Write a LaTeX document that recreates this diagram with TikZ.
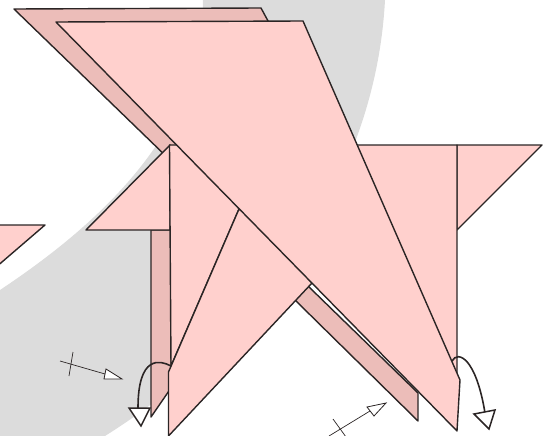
\documentclass[tikz,border=0pt]{standalone}
\definecolor{paperlight}{HTML}{FFD0CD}
\definecolor{paperdark}{HTML}{ECBDB9}
\definecolor{bandgray}{HTML}{DCDCDC}
\definecolor{inkline}{HTML}{2B2525}
\tikzset{
  frontflap/.style={fill=paperlight,draw=inkline,line width=1.4pt,line join=round},
  backflap/.style={fill=paperdark,draw=inkline,line width=1.4pt,line join=round},
  thinmark/.style={draw=inkline,line width=0.7pt},
  thinhead/.style={fill=white,draw=inkline,line width=0.8pt,line join=miter},
  turnline/.style={draw=inkline,line width=1.6pt},
  turnhead/.style={fill=white,draw=inkline,line width=1.5pt,line join=miter}
}
\begin{document}
\begin{tikzpicture}[x=1pt,y=-1pt]
\useasboundingbox (0,0) rectangle (552,436);
\begin{scope}
\clip (0,0) rectangle (552,436);
% gray band
\fill[bandgray] (203,0) .. controls (203,120) and (116,213) .. (0,290) -- (0,436) -- (105,436)
  .. controls (250,345) and (375,190) .. (385,0) -- cycle;
% left fragment
\draw[frontflap] (-5,225) -- (45,225) -- (-5,268);
% back flaps
\draw[backflap] (14,9) -- (261,8) -- (300,80) -- (170,160) -- cycle;
\draw[backflap] (151,230) -- (171,230) -- (171,388) -- (151,417) -- cycle;
\draw[backflap] (295,300) -- (418,421) -- (418,393) -- (308,286) -- cycle;
% front body pieces
\draw[frontflap] (86,230) -- (170,145) -- (170,230) -- cycle;
\draw[frontflap] (457,145) -- (542,145) -- (457,230) -- cycle;
\draw[frontflap] (340,145) -- (457,145) -- (457,385) -- (430,385) -- cycle;
\draw[frontflap] (169.5,145) -- (177,145) -- (200,150) -- (239,209) -- (171,366) -- cycle;
\draw[frontflap] (168.5,436) -- (168.5,372) -- (239,209) -- (280,240) -- (312,283) -- cycle;
% large front triangle
\draw[frontflap] (56,22) -- (303,21) -- (460,380) -- (457,431) -- cycle;
% thin arrows
\coordinate (tailA) at (60,361);
\coordinate (baseA) at (105,374);
\draw[thinmark] (tailA) -- (baseA);
\draw[thinmark] (73,352) -- (69,376);
\draw[thinhead] (106,369) -- (122,379) -- (104,379) -- cycle;
\coordinate (tailB) at (329,436);
\coordinate (baseB) at (370,411);
\draw[thinmark] (tailB) -- (baseB);
\draw[thinmark] (333,419) -- (346,437);
\draw[thinhead] (367,407) -- (386,403) -- (374,416) -- cycle;
% curved arrows
\draw[turnline] (171,366) .. controls (160,360) and (138,355) .. (138,408);
\draw[turnhead] (129,408) -- (150,408) -- (141,426) -- cycle;
\draw[turnline] (452,361) .. controls (458,350) and (476,358) .. (485,413);
\draw[turnhead] (474,414) -- (495,410) -- (489,429) -- cycle;
\end{scope}
\end{tikzpicture}
\end{document}
